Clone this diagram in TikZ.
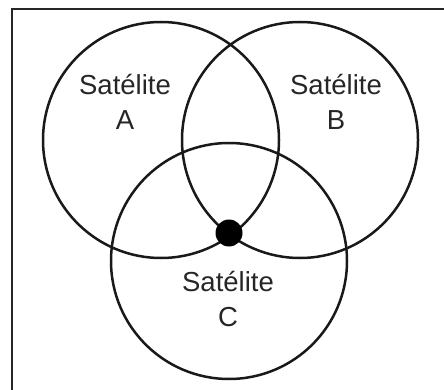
\documentclass[tikz,border=0pt]{standalone}
\usepackage{fontspec}
\setmainfont{Liberation Sans}
\usetikzlibrary{positioning}

\begin{document}
\begin{tikzpicture}[
    x=1pt, y=-1pt,
    orbit/.style={circle, draw=black!90, line width=2.5pt, minimum size=236pt, inner sep=0pt},
    label/.style={align=center, font=\fontsize{27.5}{35}\selectfont, text=black!85},
    fix/.style={circle, fill=black, minimum size=27pt, inner sep=0pt}
]
\useasboundingbox (0,0) rectangle (444,390);

% ---------------- FRAME ----------------
\draw[line width=1.8pt, black!85] (444,9) -- (12,9) -- (12,390);

% ---------------- SATELLITES ----------------
\node[orbit] (satA) at (161,140) {};
\node[orbit] (satB) at (300,140) {};
\node[orbit] (satC) at (229,261) {};

% Labels
\node[label] (labA) at (125,102) {Satélite\\A};
\node[label] (labB) at (336,102) {Satélite\\B};
\node[label] (labC) at (228,299) {Satélite\\C};

% ---------------- POSITION ----------------
\node[fix] (pos) at (229,233) {};

\end{tikzpicture}
\end{document}
